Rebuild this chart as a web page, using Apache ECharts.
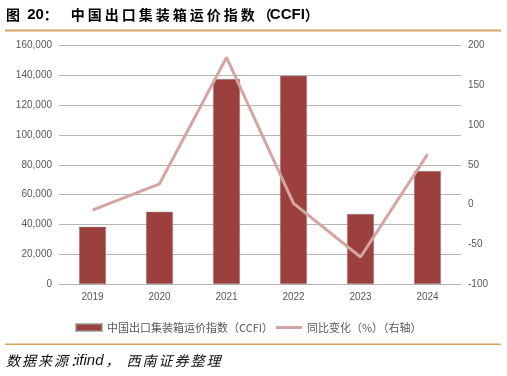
<!DOCTYPE html>
<html>
<head>
<meta charset="utf-8">
<script src="https://cdn.jsdelivr.net/npm/echarts@6/dist/echarts.min.js"></script>
<style>
html,body{margin:0;padding:0;background:#fff;}
#c{width:507px;height:376px;}
</style>
</head>
<body>
<div id="c"></div>
<script>
const years = ['2019','2020','2021','2022','2023','2024'];
const ccfi = [38400, 48500, 137500, 139700, 47000, 75800];
const yoy = [-7, 26, 185, 1.5, -66, 63];
const leftTicks = {min: 0, max: 160000, interval: 20000};
const rightTicks = {min: -100, max: 200, interval: 50};
const titleText = '图 20：中国出口集装箱运价指数（CCFI）';
const sourceText = '数据来源：ifind，西南证券整理';
const barName = '中国出口集装箱运价指数（CCFI）';
const lineName = '同比变化（%）（右轴）';

const chart = echarts.init(document.getElementById('c'), null, {renderer: 'canvas'});
const fontFamily = '"Liberation Sans", "Noto Sans CJK SC", sans-serif';
const lab = '#595959';
const gridC = '#B5B5B5';
const orange = '#D6A45E';

const mctx = document.createElement('canvas').getContext('2d');
// lay out a string with CJK letter spacing (like the document's character spacing)
function spacedText(str, x, y, opt) {
  const els = [];
  let cx = x, buf = '';
  const isCJK = ch => ch.charCodeAt(0) > 0x2000;
  const flush = () => {
    if (!buf) return;
    if (buf.trim()) {
      els.push({type: 'text', x: cx, y: y, style: {text: buf, fill: opt.color, font: opt.latinFont, textVerticalAlign: 'middle'}});
    }
    mctx.font = opt.latinFont;
    cx += mctx.measureText(buf).width + (opt.latinExtra || 0);
    buf = '';
  };
  for (const ch of str) {
    if (isCJK(ch)) {
      flush();
      const o = (opt.offset && opt.offset[ch]) || 0;
      els.push({type: 'text', x: cx + o, y: y, style: {text: ch, fill: opt.color, font: opt.cjkFont, textVerticalAlign: 'middle'}});
      cx += (opt.adv && opt.adv[ch] != null) ? opt.adv[ch] : opt.step;
    } else {
      buf += ch;
    }
  }
  flush();
  return {type: 'group', children: els};
}

const titleGroup = spacedText(titleText, 6, 15, {
  color: '#000', step: 17,
  cjkFont: 'bold 14px "Noto Sans CJK SC", sans-serif',
  latinFont: 'bold 15px "Liberation Sans Narrow", "Liberation Sans", sans-serif',
  adv: {'：': 27, '（': 12}, offset: {'（': 0}
});
const sourceGroup = spacedText(sourceText, 6, 361, {
  color: '#111', step: 16,
  cjkFont: 'italic 14px "Noto Sans CJK SC", sans-serif',
  latinFont: 'italic 15px "Liberation Sans", sans-serif',
  latinExtra: 2,
  adv: {'：': 6, '，': 21}
});

chart.setOption({
  animation: false,
  textStyle: {fontFamily: fontFamily},
  grid: {left: 59, right: 46, top: 45.5, bottom: 92, containLabel: false},
  legend: {
    left: 75, top: 322, padding: 0,
    itemWidth: 26, itemHeight: 7, itemGap: 3,
    textStyle: {color: lab, fontSize: 11, fontFamily: '"Noto Sans CJK SC", sans-serif'},
    data: [
      {name: barName, icon: 'rect'},
      {name: lineName, icon: 'path://M0,0 M0,2 L26,2 L26,5 L0,5 Z M26,7'}
    ]
  },
  xAxis: {
    type: 'category', data: years,
    axisLine: {lineStyle: {color: gridC, width: 1}},
    axisTick: {show: false},
    axisLabel: {color: lab, fontSize: 10, margin: 8}
  },
  yAxis: [
    {
      type: 'value', min: leftTicks.min, max: leftTicks.max, interval: leftTicks.interval,
      axisLine: {show: false}, axisTick: {show: false},
      splitLine: {lineStyle: {color: gridC, width: 1}},
      axisLabel: {color: lab, fontSize: 10, margin: 7,
        formatter: v => v.toLocaleString('en-US')}
    },
    {
      type: 'value', min: rightTicks.min, max: rightTicks.max, interval: rightTicks.interval,
      axisLine: {show: false}, axisTick: {show: false},
      splitLine: {show: false},
      axisLabel: {color: lab, fontSize: 10, margin: 7}
    }
  ],
  series: [
    {
      name: barName, type: 'bar', data: ccfi, barWidth: 27, yAxisIndex: 0,
      itemStyle: {color: '#9C403D', borderColor: 'rgba(150,150,150,0.7)', borderWidth: 0.6}
    },
    {
      name: lineName, type: 'line', data: yoy, yAxisIndex: 1,
      symbol: 'none', lineStyle: {color: '#D4A5A3', width: 3},
      itemStyle: {color: '#D4A5A3'}
    }
  ],
  graphic: [
    titleGroup,
    {type: 'rect', shape: {x: 5, y: 29.5, width: 496, height: 2}, style: {fill: orange}},
    {type: 'rect', shape: {x: 5, y: 343.5, width: 496, height: 1.5}, style: {fill: orange}},
    sourceGroup
  ]
});
</script>
</body>
</html>
